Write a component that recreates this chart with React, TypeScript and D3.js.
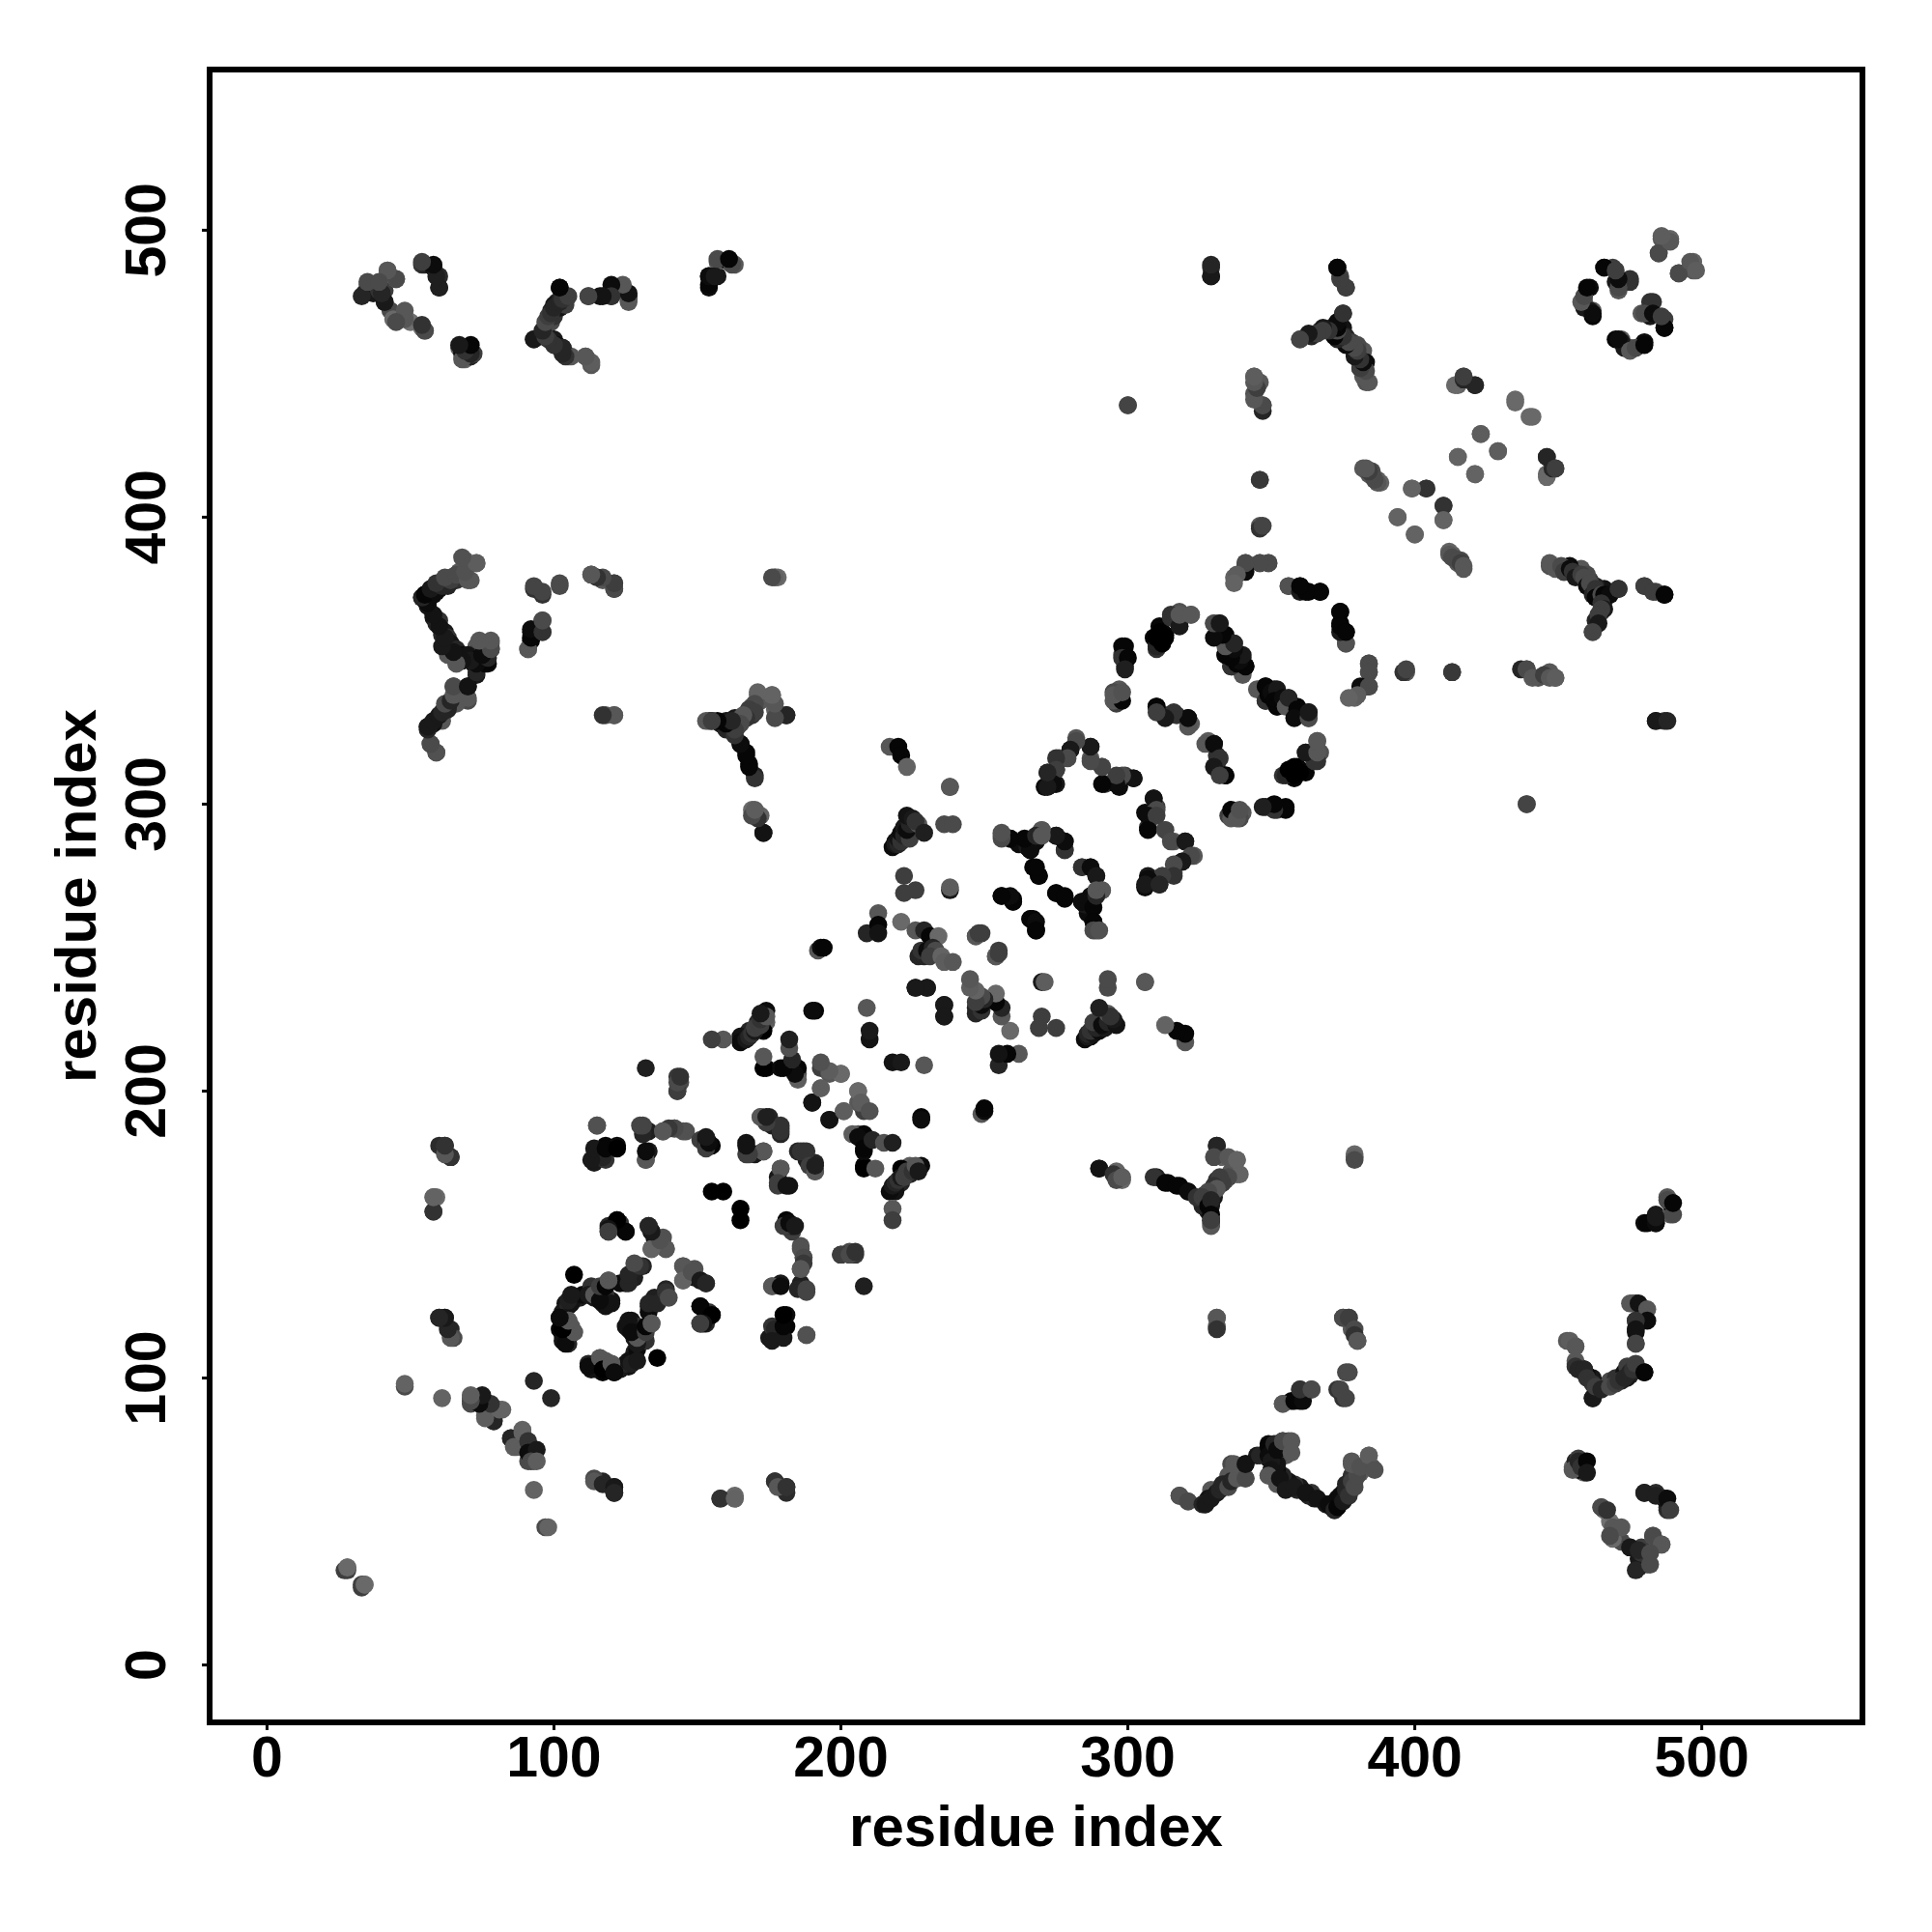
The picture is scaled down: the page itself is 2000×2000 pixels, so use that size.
import React, { useEffect, useRef } from "react";
import * as d3 from "d3";

const SIZE = 2000;
const MARGIN = { left: 217, right: 72, top: 72, bottom: 217 };
const POINT_RADIUS = 9.3;
const FONT = '"Liberation Sans", Arial, sans-serif';

const TICKS = [0, 100, 200, 300, 400, 500];
const AXIS_LABEL = "residue index";
const DOMAIN: [number, number] = [-20, 556];

type Contact = [number, number, number];

// each contact is [residue i, residue j, score]; the map is symmetric

const nTermToCTerm: Contact[] = [
  [35, 481, .15], [34, 478, .7], [38, 481, .6], [37, 478, .8], [39, 479, .6], [41, 479, .5], [41, 475, .5], [42, 486, .05], [45, 483, .1],
  [43, 472, .4], [44, 469, .15], [48, 470, .1], [50, 468, .1], [54, 466, .1], [55, 465, .4],
  [54, 488, .6], [55, 488, .7], [58, 487, .85], [60, 484, .65], [60, 480, .7],
  [69, 455, .15], [67, 459, .2], [70, 459, .9], [68, 457, .9], [69, 458, .8], [71, 456, .7], [72, 457, .5],
  [93, 462, .8], [98, 468, .3], [96, 463, .4], [97, 466, .5], [97, 464, .6], [98, 463, .3], [99, 468, .4], [100, 470, .6], [99, 472, .7], [101, 475, .7], [102, 473, .85],
  [102, 480, .9], [100, 474, .8], [103, 475, .6], [104, 474, .5], [104, 477, .4],
  [100, 462, .8], [101, 460, .9], [102, 459, .85], [103, 459, .9], [104, 457, .7], [103, 458, .6], [105, 456, .2], [106, 456, .3], [111, 456, .2], [113, 453, .3],
  [112, 477, .4], [116, 477, .85], [120, 477, .5], [121, 480, .9], [124, 480, .2], [126, 475, .3], [126, 477, .8],
  [154, 480, .9], [154, 484, .9], [157, 484, .8], [157, 489, .3], [161, 489, .9], [163, 488, .3],
];

const nTermMiddle: Contact[] = [
  [69, 385, .3], [73, 384, .2], [65, 379, .3], [67, 381, .25], [68, 379, .3], [71, 378, .3], [64, 379, .3], [66, 378, .6], [62, 377, .6], [63, 378, .4], [59, 376, .6], [61, 376, .5], [63, 376, .7],
  [60, 375, .7], [57, 374, .85], [58, 375, .8], [55, 373, .95], [56, 373, .85], [58, 373, .9],
  [54, 372, .95], [55, 371, .9], [56, 369, .8], [58, 365, .8], [59, 363, .7], [60, 364, .6], [60, 362, .5], [62, 360, .8], [61, 359, .7], [63, 358, .6], [62, 356, .8], [64, 356, .85],
  [66, 354, .7], [66, 349, .2], [64, 353, .3], [63, 352, .3], [73, 355, .3], [74, 354, .4], [76, 355, .3], [78, 356, .3], [68, 352, .9], [70, 352, .85], [72, 349, .95], [74, 351, .9], [76, 352, .9], [75, 349, .95], [78, 354, .9], [77, 349, .9], [73, 345, .8],
  [65, 341, .4], [70, 341, .9], [70, 336, .4], [67, 339, .35], [66, 338, .4], [65, 336, .8], [64, 336, .5], [63, 335, .3], [66, 335, .3], [63, 334, .8], [62, 333, .6], [61, 331, .7], [60, 330, .8], [59, 329, .85], [61, 329, .3], [58, 328, .85], [56, 327, .8], [57, 321, .3], [59, 318, .4],
  [91, 354, .15], [92, 357, .95], [92, 360, .9], [96, 360, .5], [96, 364, .4],
  [93, 375, .6], [96, 373, .6], [102, 376, .4], [113, 380, .4], [117, 378, .3], [121, 377, .4], [121, 375, .5],
  [118, 331, .3], [121, 331, .2], [177, 379, .15], [178, 379, .15],
  [154, 329, .3], [155, 329, .9], [158, 328, .8], [160, 326, .7], [162, 327, .5], [161, 329, .4], [163, 330, .8], [164, 327, .6], [165, 329, .6], [166, 330, .5], [167, 331, .4], [168, 333, .5], [169, 331, .6], [169, 334, .3], [170, 335, .4], [171, 338, .15], [172, 336, .3], [176, 338, .2], [177, 333, .2], [181, 331, .7],
  [165, 321, .95], [167, 318, .95], [168, 314, .9], [170, 310, .7],
  [169, 298, .15], [170, 296, .95], [172, 296, .2], [173, 290, .8],
];

const middleHelices: Contact[] = [
  [217, 320, .3], [220, 320, .95], [221, 317, .95], [223, 313, .2], [238, 306, .35],
  [218, 285, .9], [219, 287, .9], [219, 286, .8], [220, 286, .7], [220, 288, .85], [221, 287, .6], [221, 290, .9], [222, 289, .7], [222, 292, .8], [224, 288, .5], [223, 291, .9], [224, 293, .7], [223, 296, .85], [225, 295, .8], [227, 293, .3], [226, 294, .6], [229, 290, .75],
  [236, 293, .4], [239, 293, .4], [222, 275, .5], [222, 269, .5], [226, 270, .5], [238, 270, .8], [238, 271, .25],
  [213, 262, .3], [209, 255, .7], [213, 258, .95], [213, 255, .85],
  [221, 259, .15], [226, 256, .3], [229, 256, .7], [231, 254, .95], [234, 254, .15],
  [227, 247, .7], [229, 247, .7], [228, 249, .6], [230, 249, .9], [232, 250, .7], [233, 249, .4], [231, 247, .5], [235, 247, .2], [236, 245, .25], [239, 245, .3],
  [247, 254, .3], [249, 255, .5], [254, 247, .3], [255, 248, .5],
  [226, 236, .8], [230, 236, .8], [236, 230, .8], [236, 226, .8],
  [306, 238, .3],
];

const helixPairs: Contact[] = [
  [310, 334, .95], [314, 331, .75], [317, 331, .6], [321, 330, .9], [322, 328, .25],
  [327, 321, .3], [330, 321, .9], [332, 316, .6], [330, 313, .8], [334, 310, .95], [332, 310, .5],
  [336, 297, .95], [335, 296, .5], [340, 297, .3], [339, 295, .4],
  [295, 336, .3], [298, 336, .95], [295, 338, .3], [298, 339, .35],
  [271, 306, .9], [272, 311, .8], [275, 307, .8], [275, 312, .6], [276, 316, .4], [280, 319, .8], [282, 323, .3], [287, 320, .75],
  [287, 316, .25], [291, 313, .35], [292, 307, .6], [297, 306, .9], [297, 309, .5], [299, 310, .5], [302, 309, .8],
  [309, 302, .85], [310, 298, .4], [307, 296, .9], [310, 296, .5], [307, 291, .95], [313, 291, .45], [315, 287, .4], [320, 287, .8],
  [322, 282, .4], [319, 280, .8], [316, 279, .4], [316, 275, .6], [312, 275, .5], [307, 274, .9], [306, 272, .8], [311, 272, .7],
  [256, 289, .3], [259, 288, .9], [262, 286, .9], [265, 285, .8], [267, 288, .8], [266, 284, .9], [270, 291, .25], [275, 289, .85], [278, 284, .6], [278, 287, .95],
  [267, 278, .95], [269, 275, .95], [284, 278, .6], [287, 278, .9], [289, 275, .8],
  [291, 270, .3], [287, 268, .9], [284, 266, .9], [288, 264, .95], [289, 268, .7], [289, 270, .3],
  [256, 268, .95], [260, 266, .8], [260, 267, .95], [275, 269, .95], [278, 268, .95],
  [266, 260, .95], [268, 259, .9], [268, 256, .95], [288, 259, .95], [288, 256, .4], [290, 256, .35],
  [337, 379, .2], [341, 383, .9], [341, 384, .45], [346, 384, .4], [349, 384, .4],
  [356, 376, .3], [360, 375, .8], [360, 376, .95], [363, 374, .95], [367, 374, .95],
  [376, 356, .35], [374, 360, .8], [374, 367, .95], [374, 362, .95], [376, 360, .95],
  [384, 349, .4], [384, 346, .4], [381, 341, .9], [384, 341, .4], [380, 338, .25], [377, 337, .2],
  [397, 346, .3], [413, 346, .6],
  [330, 363, .2], [332, 363, .7], [332, 358, .9], [334, 359, .95], [334, 356, .3], [337, 356, .65], [334, 352, .95], [336, 348, .9], [337, 350, .95], [340, 346, .5], [340, 351, .8], [341, 348, .95],
  [345, 340, .3], [348, 336, .6], [348, 341, .95], [349, 338, .95], [350, 339, .9], [352, 340, .8], [351, 336, .95], [352, 334, .95], [354, 337, .9], [355, 334, .3], [356, 337, .7], [359, 333, .95], [358, 330, .9], [363, 330, .4], [363, 332, .8],
  [366, 322, .15], [362, 318, .6], [367, 318, .35], [366, 315, .6], [359, 313, .95], [362, 311, .95], [360, 312, .95], [358, 310, .95], [354, 310, .6],
  [348, 299, .8], [351, 299, .7], [352, 298, .5], [355, 299, .95],
  [309, 358, .95], [310, 355, .7], [311, 360, 1], [313, 358, 1], [310, 358, 1], [312, 356, 1], [315, 365, .6], [318, 362, .8], [318, 366, .3], [322, 366, .3],
  [298, 355, .95], [298, 351, .6], [300, 351, .95], [299, 347, .75],
];

const cTermPairs: Contact[] = [
  [329, 487, .6], [329, 484, .8], [373, 487, .95], [374, 484, .4], [376, 480, .6], [375, 471, .7],
  [360, 462, .45], [364, 463, .7], [367, 465, .6], [371, 466, .6], [373, 467, .9], [374, 467, .8], [375, 466, .85], [376, 463, .7], [378, 461, .5],
  [374, 464, .8], [377, 461, .7], [379, 459, .6], [379, 458, .5], [380, 456, .6], [381, 455, .85], [381, 457, .4], [382, 453, .5], [382, 458, .3], [380, 460, .4], [383, 447, .35], [381, 452, .8], [383, 454, .9],
  [469, 487, .5], [466, 487, .9], [471, 479, .3], [470, 482, .8], [475, 482, .6],
  [459, 475, .3], [459, 473, .8], [461, 480, .9], [462, 470, .95], [462, 472, .3],
  [483, 475, .6], [480, 471, .4], [483, 471, .9], [487, 466, .95], [486, 470, .5],
  [472, 461, .8], [471, 462, .9], [475, 458, .3], [477, 459, .4], [480, 460, .95],
  [485, 492, .4], [486, 497, .3], [489, 497, .2], [492, 485, .4], [496, 489, .3], [498, 486, .25],
  [300, 439, .4], [344, 449, .3], [344, 443, .35], [345, 446, .4], [346, 447, .3], [347, 437, .7], [347, 439, .3],
  [346, 413, .55], [346, 396, .6], [347, 397, .45],
  [415, 446, .2], [417, 449, .3], [421, 446, .6], [435, 440, .15], [441, 435, .15], [423, 429, .25], [415, 421, .2], [429, 423, .25], [421, 415, .2],
  [446, 421, .7], [446, 414, .15], [448, 417, .7], [449, 417, .5],
  [382, 417, .3], [384, 415, .3], [385, 416, .4], [387, 413, .3], [388, 412, .2],
  [399, 410, .2], [404, 410, .55], [410, 404, .6], [410, 399, .2], [394, 400, .15], [400, 394, .2],
  [412, 387, .3], [413, 386, .4], [415, 385, .4], [416, 384, .5], [417, 383, .3],
  [447, 384, .3], [449, 382, .3], [451, 383, .4], [452, 381, .5], [454, 382, .9], [455, 381, .6], [456, 379, .8], [458, 380, .5], [459, 379, .4], [460, 376, .9], [461, 377, .4], [462, 373, .7], [463, 375, .6], [463, 372, .95], [465, 373, .4], [466, 373, .95], [468, 373, .9], [471, 375, .6],
  [465, 370, .6], [466, 368, .8], [465, 368, .5], [464, 366, .5], [464, 363, .8], [462, 360, .45], [480, 376, .5], [483, 374, .5], [487, 373, .95],
  [484, 329, .8], [488, 329, .7], [439, 300, .45],
  [439, 347, .4], [441, 344, .3], [445, 345, .5], [447, 344, .3], [449, 344, .25],
];

const nTermMiddleLobe: Contact[] = [
  [115, 188, .3], [114, 175, .8], [115, 178, .6], [116, 177, .7], [118, 176, .6], [118, 181, .95], [122, 181, .9],
  [131, 187, .3], [132, 176, .3], [133, 179, .8], [133, 186, .75], [138, 186, .4], [142, 187, .4], [146, 186, .35],
  [151, 183, .5], [153, 183, .8], [153, 181, .6], [155, 181, .95],
  [132, 208, .75], [143, 205, .55], [144, 203, .4], [143, 200, .6],
  [155, 165, 1], [159, 165, 1],
  [167, 182, .85], [167, 178, .5], [170, 178, .8], [173, 179, .35], [172, 191, .3], [175, 191, .7], [176, 188, .75], [179, 187, .75], [179, 185, .7],
  [186, 179, .6], [188, 179, .6], [189, 174, .5], [191, 172, .3], [191, 174, .75],
  [179, 173, .3], [178, 168, .5], [181, 167, .85],
  [174, 208, .95], [179, 208, .9], [185, 206, .3], [185, 208, .95], [193, 208, .5], [196, 206, .3], [200, 206, .15], [193, 201, .2],
  [190, 196, .85], [196, 190, .85], [201, 193, .25], [206, 200, .15], [207, 196, .25], [210, 193, .35],
  [204, 185, .25], [206, 184, .9], [208, 180, .95], [208, 173, 1], [212, 173, .3], [211, 183, .7], [215, 182, .35], [218, 182, .75],
  [228, 191, .95], [228, 190, .9], [224, 174, .25], [221, 173, 1], [224, 171, .7], [228, 174, .9], [221, 168, .7], [219, 165, .85], [217, 165, .9], [218, 159, .3], [218, 155, .5],
  [218, 167, .8], [219, 168, .7], [220, 169, .6], [221, 170, .8], [222, 170, .5], [223, 172, .5], [225, 172, .6], [226, 174, .3], [227, 172, .8],
  [229, 209, .3], [218, 210, .85], [221, 210, .8],
  [192, 249, .3], [193, 250, .9], [194, 250, .95],
  [119, 153, .7], [119, 151, .6], [122, 155, .9], [123, 154, .6], [125, 151, 1],
  [134, 145, .3], [133, 153, .75], [134, 151, .8], [135, 149, .85], [138, 149, .35], [139, 145, .35],
  [128, 138, .3], [131, 139, .7], [128, 135, .75], [125, 133, .75], [123, 133, .9], [119, 134, .3],
  [107, 136, 1], [115, 131, .35], [112, 129, .8], [109, 128, .75], [106, 128, .9], [104, 126, .85], [117, 126, .6], [120, 127, .85],
  [103, 123, .8], [105, 125, .7], [106, 126, .85], [110, 129, .9], [114, 128, .8], [118, 129, .6], [113, 132, .6], [116, 128, .9], [118, 125, .85],
  [102, 121, .95], [102, 117, .95], [103, 115, .9], [103, 113, .85], [105, 120, .25], [106, 118, .3], [107, 116, .3], [105, 115, .6], [105, 112, .7], [104, 112, .9],
  [116, 107, .3], [117, 103, 1], [120, 105, .3], [121, 102, .9], [127, 105, .75], [129, 106, .8],
  [129, 112, .8], [129, 114, .3], [126, 120, .85], [127, 116, .9], [132, 116, .5], [132, 118, .95], [134, 119, .3],
  [133, 126, .7], [136, 126, .7], [139, 130, .6], [140, 128, .4],
  [145, 139, .3], [145, 134, .2], [148, 137, .35], [151, 134, .8], [153, 133, .7],
  [151, 125, .95], [155, 122, 1], [152, 119, .85], [151, 119, .5],
  [180, 153, .5], [182, 154, .9], [184, 153, .8], [186, 145, .35], [187, 142, .4], [187, 140, .55], [186, 138, .3],
  [176, 132, .3], [179, 132, .9], [185, 131, .7], [188, 131, .45], [188, 130, .45],
  [177, 117, .7], [176, 113, .8], [180, 114, .8], [180, 118, .95], [180, 122, 1], [188, 115, .35],
  [200, 143, .5], [203, 143, .4], [205, 144, .6],
];

const shortAndStray: Contact[] = [
  [27, 33, .5], [28, 34, .15], [33, 28, .5], [34, 28, .15], [48, 97, .4], [48, 98, .2], [61, 93, .2], [93, 99, .7],
  [71, 93, .25], [71, 91, .4], [75, 93, .8], [75, 91, .9], [78, 90, .7], [76, 87, .2], [82, 89, .2], [79, 85, .75],
  [79, 85, .7], [76, 86, .25], [81, 89, .2], [78, 91, .6], [74, 91, .9], [75, 94, .8], [71, 92, .4], [71, 94, .25],
  [58, 163, .2], [59, 163, .15], [58, 158, .55], [60, 181, .65], [62, 181, .6], [64, 177, .7],
  [60, 121, .6], [62, 121, .7], [64, 117, .7], [65, 114, .4],
  [114, 64, .3], [117, 63, .7], [121, 62, .8], [121, 60, .7],
  [177, 64, .6], [178, 62, .3], [181, 62, .6], [158, 58, .6], [163, 58, .2],
  [290, 173, .85], [295, 171, .6], [296, 169, .4], [298, 170, .25],
  [309, 170, .6], [313, 168, .95], [317, 167, .95], [321, 165, .9], [324, 163, .6], [327, 163, .7],
  [331, 181, .7], [330, 177, .4], [335, 177, .3], [338, 176, .2], [339, 171, .2], [335, 170, .4], [333, 168, .5], [332, 170, .5], [330, 165, .5], [330, 167, .6], [331, 166, .3], [328, 165, .4], [326, 163, .5],
  [329, 160, .8], [328, 160, .95], [329, 162, .7], [329, 157, .95], [329, 153, .3], [329, 155, .5],
  [331, 121, .3], [331, 117, .6], [375, 121, .4], [377, 121, .5], [379, 117, .4], [379, 115, .6], [380, 113, .3],
  [379, 177, .2], [379, 176, .4],
  [377, 102, .4], [374, 96, .45], [376, 93, .45],
  [354, 91, .3], [358, 92, .95], [361, 92, .9], [360, 96, .6], [364, 96, .4],
  [318, 59, .35], [321, 57, .4], [326, 56, .7], [327, 56, .8], [329, 58, .8], [331, 60, .8], [332, 61, .7], [333, 63, .7], [335, 62, .4], [336, 64, .7], [338, 65, .3], [341, 65, .4],
  [337, 70, .3], [341, 70, .85], [346, 73, .7], [349, 76, .95], [349, 73, .9], [350, 71, .8], [351, 77, .7], [352, 75, .9], [354, 78, .4], [357, 78, .3], [357, 74, .3], [350, 68, .85], [349, 66, .3],
  [353, 65, .85], [355, 61, .8], [358, 62, .8], [362, 60, .85], [366, 58, .85], [370, 56, .9], [372, 54, .7], [373, 55, .95], [374, 59, .9], [375, 57, .8], [376, 61, .7], [377, 59, .6], [378, 64, .5], [379, 62, .4], [380, 66, .4], [378, 70, .3], [381, 69, .35], [384, 73, .25], [386, 68, .35],
  [455, 68, .3], [457, 71, .7], [458, 69, .6], [460, 71, .95], [460, 67, .8],
  [454, 113, .25], [456, 111, .3], [456, 104, .6], [457, 103, .7], [459, 103, .7], [460, 100, .6], [462, 98, .6], [462, 93, .8], [463, 97, .5], [465, 96, .7], [468, 97, .4], [470, 98, .5], [471, 99, .6], [473, 100, .7], [475, 102, .7], [476, 103, .6], [477, 105, .5], [480, 102, .95],
  [476, 126, .3], [478, 126, .85], [481, 124, .3], [481, 120, .9], [477, 120, .6], [477, 117, .85], [477, 112, .45],
  [481, 154, .95], [484, 154, .9], [484, 156, .8], [490, 157, .4], [488, 162, .4], [490, 161, .95],
  [465, 55, .4], [467, 54, .6], [469, 48, .3], [472, 48, .3], [468, 45, .4], [475, 41, .8], [478, 40, .7], [477, 33, .7], [482, 35, .4],
  [483, 45, .4], [486, 42, .3], [482, 39, .4], [480, 60, .75], [484, 59, .75], [488, 58, .9], [489, 54, .5],
];

const contactGroups = [nTermToCTerm, nTermMiddle, middleHelices, helixPairs, cTermPairs, nTermMiddleLobe, shortAndStray];

export default function App() {
  const ref = useRef<SVGSVGElement>(null);

  useEffect(() => {
    const svg = d3.select(ref.current);
    svg.selectAll("*").remove();

    const x = d3.scaleLinear().domain(DOMAIN).range([MARGIN.left, SIZE - MARGIN.right]);
    const y = d3.scaleLinear().domain(DOMAIN).range([SIZE - MARGIN.bottom, MARGIN.top]);
    const shade = d3.scaleLinear<string>().domain([0, 1]).range(["#7c7c7c", "#000000"]);

    const contacts = contactGroups.flat();

    svg.append("g")
      .selectAll("circle")
      .data(contacts.flatMap(([i, j, s]) => [[i, j, s], [j, i, s]]))
      .join("circle")
      .attr("cx", d => x(d[0]))
      .attr("cy", d => y(d[1]))
      .attr("r", POINT_RADIUS)
      .attr("fill", d => shade(d[2]));

    const xAxis = svg.append("g")
      .attr("transform", `translate(0,${SIZE - MARGIN.bottom})`)
      .call(d3.axisBottom(x).tickValues(TICKS).tickFormat(d3.format("d")).tickSize(8).offset(0));
    const yAxis = svg.append("g")
      .attr("transform", `translate(${MARGIN.left},0)`)
      .call(d3.axisLeft(y).tickValues(TICKS).tickFormat(d3.format("d")).tickSize(8).offset(0));

    [xAxis, yAxis].forEach(axis => {
      axis.select(".domain").remove();
      axis.selectAll("line").attr("stroke", "#000").attr("stroke-width", 3);
      axis.selectAll("text")
        .attr("font-family", FONT)
        .attr("font-weight", "bold")
        .attr("font-size", 59)
        .attr("fill", "#000");
    });

    xAxis.selectAll("text").attr("y", 56).attr("dy", 0);
    yAxis.selectAll("text")
      .attr("transform", "rotate(-90)")
      .attr("x", 0)
      .attr("y", -46)
      .attr("dy", 0)
      .attr("text-anchor", "middle");

    svg.append("rect")
      .attr("x", MARGIN.left)
      .attr("y", MARGIN.top)
      .attr("width", SIZE - MARGIN.left - MARGIN.right)
      .attr("height", SIZE - MARGIN.top - MARGIN.bottom)
      .attr("fill", "none")
      .attr("stroke", "#000")
      .attr("stroke-width", 6);

    const label = svg.append("g")
      .attr("font-family", FONT)
      .attr("font-weight", "bold")
      .attr("font-size", 60)
      .attr("text-anchor", "middle")
      .attr("fill", "#000");

    label.append("text")
      .attr("x", (MARGIN.left + SIZE - MARGIN.right) / 2)
      .attr("y", 1911)
      .text(AXIS_LABEL);

    label.append("text")
      .attr("transform", `translate(99,${(MARGIN.top + SIZE - MARGIN.bottom) / 2}) rotate(-90)`)
      .text(AXIS_LABEL);
  }, []);

  return (
    <svg
      ref={ref}
      width={SIZE}
      height={SIZE}
      style={{ position: "absolute", left: 0, top: 0, background: "#fff" }}
    />
  );
}
